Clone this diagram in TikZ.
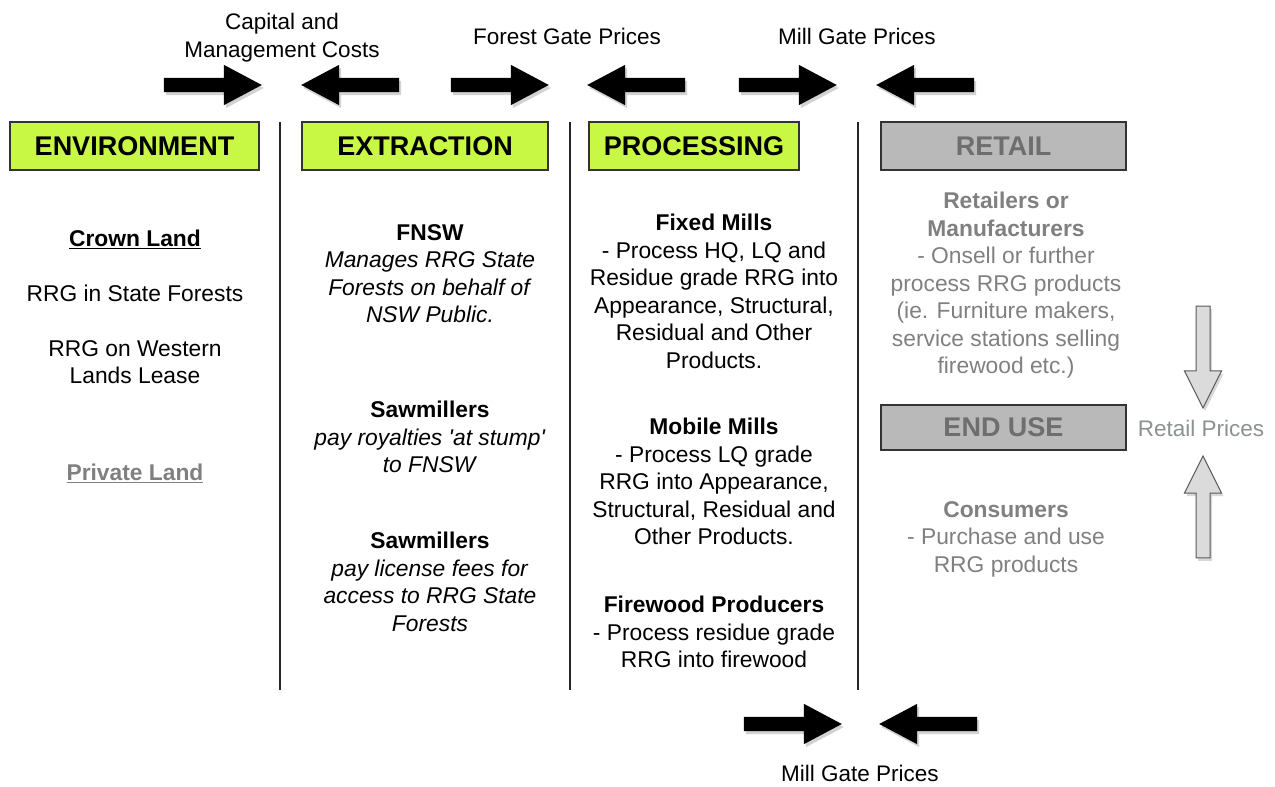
\documentclass[tikz,border=0pt]{standalone}
\usepackage{fontspec}
\setmainfont{Liberation Sans}
\usetikzlibrary{shapes.arrows,shadows}
\definecolor{lime}{RGB}{200,247,68}
\definecolor{boxgray}{RGB}{185,185,185}
\definecolor{hdrgray}{RGB}{110,110,110}
\definecolor{txtgray}{RGB}{128,128,128}
\definecolor{lblgray}{RGB}{140,145,145}
\begin{document}
\begin{tikzpicture}[x=1pt,y=-1pt,
  hdr/.style={draw=black!80, line width=1.3pt, fill=lime, minimum height=48, inner sep=0,
    font=\fontsize{27}{30}\selectfont\bfseries},
  hdrg/.style={hdr, fill=boxgray, text=hdrgray},
  blk/.style={align=center, anchor=north, inner sep=0, font=\fontsize{22.8}{27.5}\selectfont},
  lbl/.style={align=center, anchor=north, inner sep=0, font=\fontsize{22.5}{28}\selectfont},
  divider/.style={line width=1.3pt, black!85},
  harr/.style={single arrow, fill=black, draw=none, inner xsep=0, inner ysep=7,
    minimum width=0, minimum height=98, single arrow head extend=13,
    single arrow tip angle=56, single arrow head indent=0,
    drop shadow={shadow xshift=2pt, shadow yshift=-3pt, opacity=0.35}},
  varr/.style={single arrow, fill=black!14, draw=black!65, line width=1pt, inner ysep=0, inner xsep=6.5,
    minimum width=0, minimum height=102, single arrow head extend=11.5,
    single arrow tip angle=53, single arrow head indent=0,
    drop shadow={shadow xshift=2pt, shadow yshift=-3pt, opacity=0.3}}
]
\useasboundingbox[fill=white] (0,0) rectangle (1275,787);

% top labels
\node[lbl] (lcap) at (282,13) {Capital and\\Management Costs};
\node[lbl] (lfor) at (567,28) {Forest Gate Prices};
\node[lbl] (lmill) at (857,28) {Mill Gate Prices};
\node[lbl] (lmillb) at (860,765) {Mill Gate Prices};
\node[lbl, text=lblgray] (lret) at (1201,420) {Retail Prices};

% top arrows
\node[harr] (a1) at (206,85) {};
\node[harr, shape border rotate=180] (a2) at (357,85) {};
\node[harr] (a3) at (493,85) {};
\node[harr, shape border rotate=180] (a4) at (643,85) {};
\node[harr] (a5) at (781,85) {};
\node[harr, shape border rotate=180] (a6) at (932,85) {};
% bottom arrows
\node[harr] (b1) at (786,724) {};
\node[harr, shape border rotate=180] (b2) at (935,724) {};
% vertical gray arrows
\node[varr, shape border rotate=270] (v1) at (1203,350) {};
\node[varr, shape border rotate=90] (v2) at (1203,514) {};

% headers
\node[hdr, minimum width=249] (henv) at (134.5,146) {ENVIRONMENT};
\node[hdr, minimum width=246] (hext) at (425,146) {EXTRACTION};
\node[hdr, minimum width=210] (hpro) at (694,146) {PROCESSING};
\node[hdrg, minimum width=245] (hret) at (1003.5,146) {RETAIL};
\node[hdrg, minimum width=245, minimum height=45] (hend) at (1003.5,427.5) {END USE};

% dividers
\draw[divider] (280,122) -- (280,690);
\draw[divider] (570,122) -- (570,690);
\draw[divider] (858,122) -- (858,690);

% environment column
\node[blk] (e1) at (135,230) {\bfseries\underline{Crown Land}};
\node[blk] (e2) at (135,285) {RRG in State Forests};
\node[blk] (e3) at (135,340) {RRG on Western\\Lands Lease};
\node[blk, text=txtgray] (e4) at (135,464) {\bfseries\underline{Private Land}};

% extraction column
\node[blk] (x1) at (430,224) {\textbf{FNSW}\\\textit{Manages RRG State}\\\textit{Forests on behalf of}\\\textit{NSW Public.}};
\node[blk] (x2) at (430,401) {\textbf{Sawmillers}\\\textit{pay royalties \textquotesingle at stump\textquotesingle}\\\textit{to FNSW}};
\node[blk] (x3) at (430,532) {\textbf{Sawmillers}\\\textit{pay license fees for}\\\textit{access to RRG State}\\\textit{Forests}};

% processing column
\node[blk] (p1) at (714,214) {\textbf{Fixed Mills}\\- Process HQ, LQ and\\Residue grade RRG into\\Appearance, Structural,\\Residual and Other\\Products.};
\node[blk] (p2) at (714,418) {\textbf{Mobile Mills}\\- Process LQ grade\\RRG into Appearance,\\Structural, Residual and\\Other Products.};
\node[blk] (p3) at (714,596) {\textbf{Firewood Producers}\\- Process residue grade\\RRG into firewood};

% retail column
\node[blk, text=txtgray] (r1) at (1006,192) {\textbf{Retailers or}\\\textbf{Manufacturers}\\- Onsell or further\\process RRG products\\(ie. Furniture makers,\\service stations selling\\firewood etc.)};
\node[blk, text=txtgray] (r2) at (1006,501) {\textbf{Consumers}\\- Purchase and use\\RRG products};
\end{tikzpicture}
\end{document}
